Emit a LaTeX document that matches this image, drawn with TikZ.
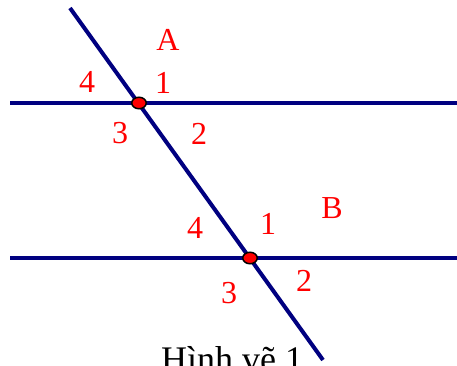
\documentclass[tikz,border=0pt]{standalone}
\usepackage{fontspec}
\setmainfont{Liberation Serif}
\usetikzlibrary{shapes.geometric}
\definecolor{lineblue}{RGB}{0,0,128}
\definecolor{labred}{RGB}{255,0,0}
\tikzset{
  gline/.style={draw=lineblue,line width=4pt},
  dotpt/.style={ellipse,draw=black,line width=1.5pt,fill=labred,minimum width=14.5pt,minimum height=11.5pt,inner sep=0pt},
  lab/.style={text=labred,font=\fontsize{32}{32}\selectfont,inner sep=0pt,anchor=center},
  captext/.style={text=black,font=\fontsize{36}{36}\selectfont,inner sep=0pt,anchor=base west}
}
\begin{document}
\begin{tikzpicture}[x=1pt,y=-1pt]
\useasboundingbox (0,0) rectangle (457,365);
\coordinate (L1a) at (10,103);
\coordinate (L1b) at (457,103);
\coordinate (L2a) at (10,258);
\coordinate (L2b) at (457,258);
\coordinate (T1) at (70,8);
\coordinate (T2) at (323,360);
\draw[gline] (L1a) -- (L1b);
\draw[gline] (L2a) -- (L2b);
\draw[gline] (T1) -- (T2);
\node[dotpt] (A) at (139,103) {};
\node[dotpt] (B) at (250,258) {};
\node[lab] (lA) at (168,40) {A};
\node[lab] (a1) at (163,83) {1};
\node[lab] (a4) at (87,82) {4};
\node[lab] (a3) at (120,133) {3};
\node[lab] (a2) at (199,134) {2};
\node[lab] (lB) at (332,208) {B};
\node[lab] (b1) at (268,224) {1};
\node[lab] (b4) at (195,228) {4};
\node[lab] (b3) at (229,293) {3};
\node[lab] (b2) at (304,281) {2};
\node[captext] (caption) at (161,371) {Hình vẽ 1};
\end{tikzpicture}
\end{document}
